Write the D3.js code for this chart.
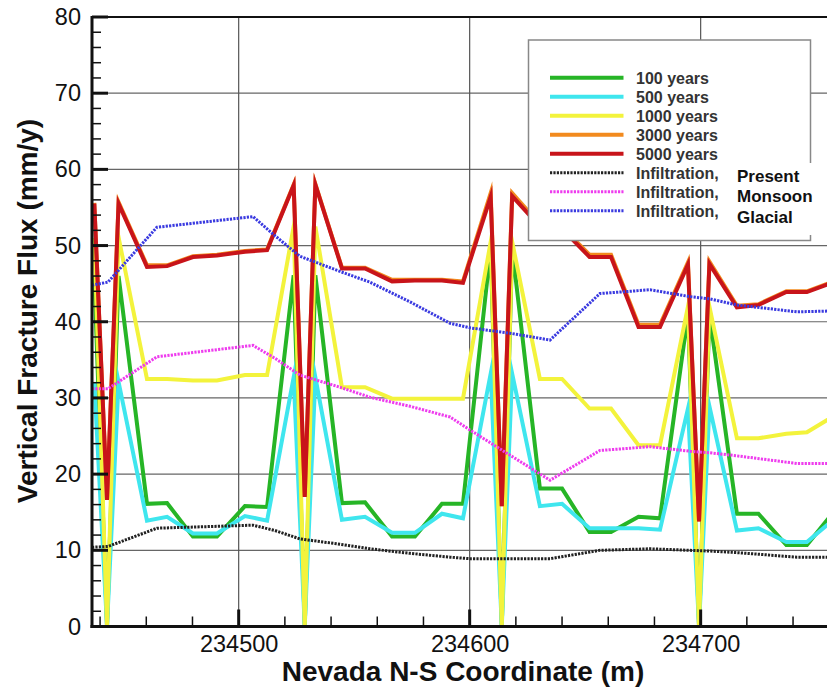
<!DOCTYPE html>
<html>
<head>
<meta charset="utf-8">
<script src="https://cdn.jsdelivr.net/npm/d3@7"></script>
<style>
  body { margin: 0; background: #fff; }
  svg { display: block; font-family: "Liberation Sans", Arial, Helvetica, sans-serif; }
</style>
</head>
<body>
<svg id="chart" width="827" height="688"></svg>
<script>
// Vertical fracture flux along the Nevada N-S coordinate (m)
const fluxX = [234437.5, 234443.0, 234448.0, 234460.3, 234469.0, 234480.2, 234490.6, 234502.7, 234512.3,
  234523.8, 234528.6, 234533.2, 234544.7, 234554.7, 234566.4, 234576.3, 234588.0, 234597.1,
  234609.1, 234613.9, 234618.4, 234630.4, 234640.0, 234651.9, 234661.2, 234673.1, 234682.4,
  234694.5, 234699.3, 234703.8, 234715.7, 234725.0, 234737.1, 234746.0, 234758.6];

const flux100 = [46.0, 0, 46.0, 16.1, 16.2, 11.8, 11.8, 15.8, 15.7, 46.1, 0, 46.1, 16.2, 16.3, 11.8, 11.8, 16.1, 16.1,
  49.7, 0, 49.7, 18.1, 18.1, 12.4, 12.4, 14.4, 14.2, 41.0, 0, 41.0, 14.8, 14.8, 10.7, 10.7, 15.4];
const flux500 = [32.0, 0, 32.1, 13.9, 14.4, 12.2, 12.2, 14.5, 13.9, 32.7, 0, 32.7, 14.0, 14.4, 12.3, 12.3, 14.8, 14.2,
  33.2, 0, 33.2, 15.8, 16.1, 12.9, 12.9, 12.9, 12.7, 28.6, 0, 28.9, 12.6, 12.9, 11.1, 11.1, 14.3];
const flux1000 = [51.0, 0, 51.1, 32.5, 32.5, 32.3, 32.3, 33.0, 33.0, 52.5, 0, 52.5, 31.4, 31.4, 29.9, 29.9, 29.9, 29.9,
  50.5, 0, 50.5, 32.5, 32.5, 28.6, 28.6, 23.8, 23.8, 42.0, 0, 42.0, 24.7, 24.7, 25.3, 25.5, 27.8];
const flux3000 = [55.6, 16.6, 55.7, 47.4, 47.4, 48.6, 48.8, 49.3, 49.5, 58.0, 17.0, 58.1, 47.1, 47.1, 45.5, 45.5, 45.5, 45.3,
  56.9, 15.8, 56.9, 52.8, 52.4, 48.8, 48.8, 39.6, 39.6, 47.8, 13.8, 47.9, 42.1, 42.3, 44.0, 44.0, 45.4];
const flux5000 = [55.5, 16.6, 55.5, 47.2, 47.3, 48.5, 48.7, 49.2, 49.4, 57.9, 17.0, 58.0, 47.0, 47.0, 45.3, 45.4, 45.4, 45.1,
  56.4, 15.8, 56.5, 52.5, 52.2, 48.5, 48.5, 39.3, 39.3, 47.5, 13.8, 47.6, 41.9, 42.2, 43.9, 43.9, 45.3];

// Infiltration boundary conditions
const infilX = [234436.5, 234443.4, 234464.6, 234506.2, 234515.7, 234526.5, 234543.9, 234556.8, 234574.2, 234591.5,
  234600.1, 234617.4, 234634.8, 234656.4, 234678.1, 234695.4, 234704.0, 234715.7, 234741.7, 234754.7];
const infilPresent = [10.4, 10.5, 12.9, 13.3, 12.6, 11.5, 10.8, 10.2, 9.6, 9.1, 8.9, 8.9, 8.9, 10.0, 10.2, 10.0, 9.9, 9.7, 9.1, 9.1];
const infilMonsoon = [31.2, 31.2, 35.4, 36.9, 35.2, 33.0, 31.4, 30.1, 28.9, 27.5, 25.8, 22.5, 19.2, 23.1, 23.6, 23.0, 22.8, 22.4, 21.4, 21.4];
const infilGlacial = [44.8, 45.2, 52.4, 53.8, 51.3, 48.6, 46.6, 45.2, 42.6, 39.8, 39.2, 38.5, 37.6, 43.7, 44.2, 43.3, 43.0, 42.2, 41.3, 41.4];

const xTicks = [234500, 234600, 234700];
const yTicks = [0, 10, 20, 30, 40, 50, 60, 70, 80];
const legendLabels = ["100 years", "500 years", "1000 years", "3000 years", "5000 years",
  "Infiltration,", "Infiltration,", "Infiltration,"];
const climateLabels = ["Present", "Monsoon", "Glacial"];

(function draw() {
  const series = [
    { name: legendLabels[0], x: fluxX, y: flux100, color: "#26b526", dotted: false },
    { name: legendLabels[1], x: fluxX, y: flux500, color: "#3fe6ee", dotted: false },
    { name: legendLabels[2], x: fluxX, y: flux1000, color: "#f3f33c", dotted: false },
    { name: legendLabels[3], x: fluxX, y: flux3000, color: "#f28a1e", dotted: false },
    { name: legendLabels[4], x: fluxX, y: flux5000, color: "#c8141a", dotted: false },
    { name: legendLabels[5], x: infilX, y: infilPresent, color: "#222222", dotted: true },
    { name: legendLabels[6], x: infilX, y: infilMonsoon, color: "#ee3cee", dotted: true },
    { name: legendLabels[7], x: infilX, y: infilGlacial, color: "#3a3ae0", dotted: true }
  ];

  const svg = d3.select("#chart");
  const pL = 92, pR = 827, pT = 17, pB = 626.5;

  const x = d3.scaleLinear().domain([234436.5, 234754.7]).range([pL, pR]);
  const y = d3.scaleLinear().domain([0, 80]).range([pB, pT]);

  const defs = svg.append("defs");
  defs.append("clipPath").attr("id", "plotClip")
    .append("rect").attr("x", pL).attr("y", pT).attr("width", pR - pL + 20).attr("height", pB - pT);

  // grid
  const grid = svg.append("g");
  grid.selectAll("line.h").data(yTicks.filter(d => d > 0 && d < 80)).join("line")
    .attr("x1", pL).attr("x2", pR + 10).attr("y1", d => y(d)).attr("y2", d => y(d))
    .attr("stroke", "#666").attr("stroke-width", 1.2);
  grid.selectAll("line.v").data(xTicks).join("line")
    .attr("x1", d => x(d)).attr("x2", d => x(d)).attr("y1", pT).attr("y2", pB)
    .attr("stroke", "#555").attr("stroke-width", 1.2);

  // data lines
  const plot = svg.append("g").attr("clip-path", "url(#plotClip)");
  const line = d3.line().x(d => x(d[0])).y(d => y(d[1]));
  series.forEach(s => {
    const pts = s.x.map((v, i) => [v, s.y[i]]);
    plot.append("path").datum(pts)
      .attr("d", line)
      .attr("fill", "none")
      .attr("stroke", s.color)
      .attr("stroke-width", s.dotted ? 3 : 4)
      .attr("stroke-linejoin", "miter")
      .attr("stroke-miterlimit", 10)
      .attr("stroke-dasharray", s.dotted ? "2.2,1.2" : null);
  });

  // frame and axes
  svg.append("line").attr("x1", pL).attr("x2", pR + 10).attr("y1", pT).attr("y2", pT)
    .attr("stroke", "#111").attr("stroke-width", 2);

  const yAxis = d3.axisLeft(y).tickValues(yTicks).tickSize(0).tickPadding(11);
  const gy = svg.append("g").attr("transform", `translate(${pL},0)`).call(yAxis);
  gy.select(".domain").remove();
  gy.selectAll("text").attr("font-size", 23.5).attr("fill", "#111")
    .attr("font-family", "'Liberation Sans', Arial, sans-serif");

  const xAxis = d3.axisBottom(x).tickValues(xTicks).tickFormat(d3.format("d")).tickSize(0).tickPadding(9);
  const gx = svg.append("g").attr("transform", `translate(0,${pB})`).call(xAxis);
  gx.select(".domain").remove();
  gx.selectAll("text").attr("font-size", 23.5).attr("fill", "#111")
    .attr("font-family", "'Liberation Sans', Arial, sans-serif");

  // tick marks drawn inward
  const ticks = svg.append("g").attr("stroke", "#111");
  ticks.selectAll("line.ymin").data(d3.range(0, 81, 2).filter(v => v % 10 !== 0)).join("line")
    .attr("x1", pL).attr("x2", pL + 9).attr("y1", d => y(d)).attr("y2", d => y(d)).attr("stroke-width", 1.5);
  ticks.selectAll("line.ymaj").data(yTicks).join("line")
    .attr("x1", pL).attr("x2", pL + 16).attr("y1", d => y(d)).attr("y2", d => y(d)).attr("stroke-width", 3);
  ticks.selectAll("line.xmin").data(d3.range(234440, 234760, 20).filter(v => v % 100 !== 0)).join("line")
    .attr("x1", d => x(d)).attr("x2", d => x(d)).attr("y1", pB).attr("y2", pB - 10).attr("stroke-width", 1.5);
  ticks.selectAll("line.xmaj").data(xTicks).join("line")
    .attr("x1", d => x(d)).attr("x2", d => x(d)).attr("y1", pB).attr("y2", pB - 17).attr("stroke-width", 3);

  svg.append("line").attr("x1", pL).attr("x2", pL).attr("y1", pT - 1).attr("y2", pB + 1.5)
    .attr("stroke", "#111").attr("stroke-width", 3);
  svg.append("line").attr("x1", pL - 1.5).attr("x2", pR + 10).attr("y1", pB).attr("y2", pB)
    .attr("stroke", "#111").attr("stroke-width", 3);

  // axis titles
  svg.append("text").attr("x", 463).attr("y", 681)
    .attr("text-anchor", "middle").attr("font-size", 28).attr("font-weight", "bold").attr("fill", "#111")
    .text("Nevada N-S Coordinate (m)");
  svg.append("text").attr("transform", "translate(37,311) rotate(-90)")
    .attr("text-anchor", "middle").attr("font-size", 28).attr("font-weight", "bold").attr("fill", "#111")
    .text("Vertical Fracture Flux (mm/y)");

  // legend
  const lg = svg.append("g");
  lg.append("rect").attr("x", 528.5).attr("y", 40).attr("width", 282).attr("height", 200.5)
    .attr("fill", "#fff").attr("stroke", "#888").attr("stroke-width", 1.5);
  series.forEach((s, i) => {
    const ry = 77.7 + i * 19;
    lg.append("line").attr("x1", 550).attr("x2", 623.5).attr("y1", ry).attr("y2", ry)
      .attr("stroke", s.color).attr("stroke-width", s.dotted ? 3 : 4)
      .attr("stroke-dasharray", s.dotted ? "2.2,1.2" : null);
    lg.append("text").attr("x", 636).attr("y", ry + 6)
      .attr("font-size", 16).attr("font-weight", "bold").attr("fill", "#333")
      .text(s.name);
  });

  // climate state labels completing the infiltration entries
  svg.append("rect").attr("x", 724).attr("y", 163).attr("width", 110).attr("height", 72).attr("fill", "#fff");
  climateLabels.forEach((t, i) => {
    svg.append("text").attr("x", 737).attr("y", 182 + i * 20.3)
      .attr("font-size", 17).attr("font-weight", "bold").attr("fill", "#111").text(t);
  });
})();
</script>
</body>
</html>
